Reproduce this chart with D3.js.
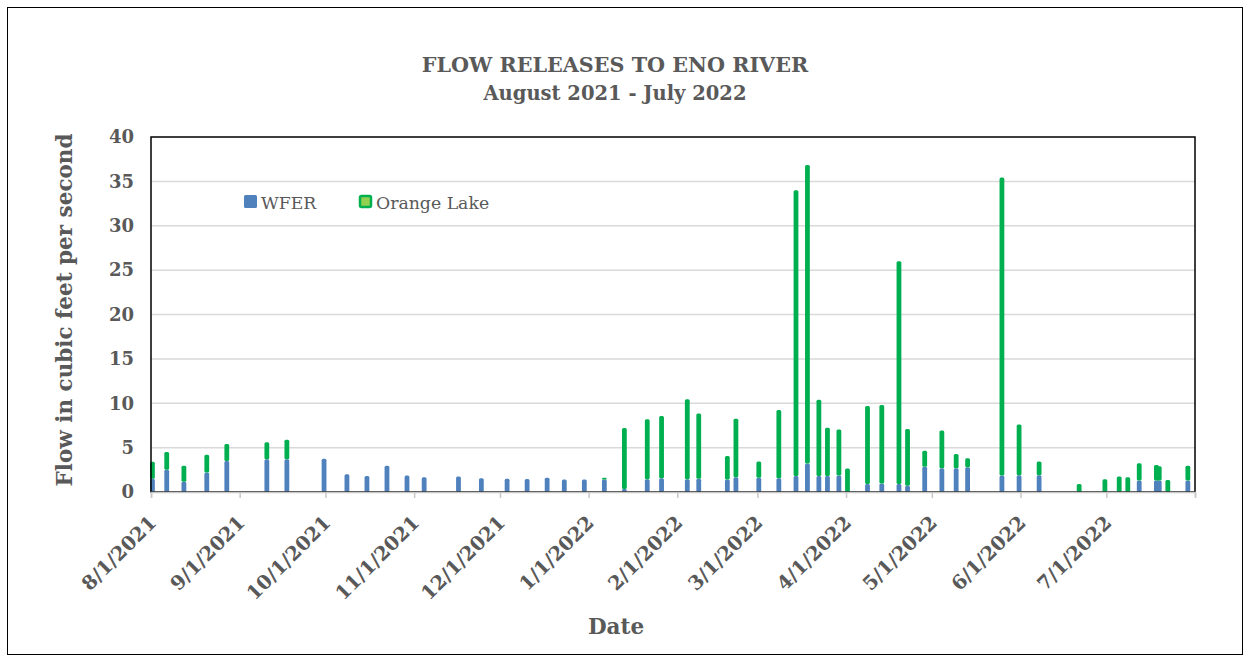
<!DOCTYPE html>
<html>
<head>
<meta charset="utf-8">
<script src="https://cdn.jsdelivr.net/npm/d3@7"></script>
<style>
  body { margin: 0; background: #fff; }
  text { font-family: "DejaVu Serif", "Liberation Serif", serif; fill: #595959; }
</style>
</head>
<body>
<div id="chart-container"></div>
<script>
// release dates and flows (cfs)
const dates = [
  "2021-08-01", "2021-08-06", "2021-08-12", "2021-08-20", "2021-08-27",
  "2021-09-10", "2021-09-17", "2021-09-30",
  "2021-10-08", "2021-10-15", "2021-10-22", "2021-10-29",
  "2021-11-04", "2021-11-16", "2021-11-24",
  "2021-12-03", "2021-12-10", "2021-12-17", "2021-12-23", "2021-12-30",
  "2022-01-06", "2022-01-13", "2022-01-21", "2022-01-26",
  "2022-02-04", "2022-02-08", "2022-02-18", "2022-02-21",
  "2022-03-01", "2022-03-08", "2022-03-14", "2022-03-18", "2022-03-22", "2022-03-25", "2022-03-29",
  "2022-04-01", "2022-04-08", "2022-04-13", "2022-04-19", "2022-04-22", "2022-04-28",
  "2022-05-04", "2022-05-09", "2022-05-13", "2022-05-25", "2022-05-31",
  "2022-06-07", "2022-06-21", "2022-06-30",
  "2022-07-05", "2022-07-08", "2022-07-12", "2022-07-18", "2022-07-19", "2022-07-22", "2022-07-29"
];
const wfer = [
  1.5, 2.5, 1.15, 2.2, 3.5,
  3.7, 3.7, 3.75,
  2.0, 1.8, 2.95, 1.85,
  1.65, 1.75, 1.55,
  1.5, 1.47, 1.6, 1.4, 1.4,
  1.4, 0.35, 1.45, 1.55,
  1.45, 1.5, 1.4, 1.65,
  1.6, 1.55, 1.8, 3.2, 1.8, 1.8, 1.85,
  0, 0.9, 0.95, 0.9, 0.7, 2.85,
  2.67, 2.67, 2.8, 1.85, 1.9,
  1.9, 0, 0,
  0, 0, 1.3, 1.3, 1.3, 0, 1.3
];
const orangeLake = [
  1.9, 2.0, 1.8, 2.0, 1.9,
  1.9, 2.2, 0,
  0, 0, 0, 0,
  0, 0, 0,
  0, 0, 0, 0, 0,
  0.2, 6.85, 6.75, 7.0,
  9.0, 7.35, 2.65, 6.6,
  1.85, 7.7, 32.2, 33.65, 8.6, 5.45, 5.2,
  2.65, 8.8, 8.85, 25.1, 6.4, 1.8,
  4.25, 1.6, 1.0, 33.6, 5.7,
  1.55, 0.9, 1.45,
  1.75, 1.65, 1.95, 1.75, 1.6, 1.35, 1.65
];
const seriesNames = ["WFER", "Orange Lake"];
const monthTicks = [
  "2021-08-01", "2021-09-01", "2021-10-01", "2021-11-01", "2021-12-01", "2022-01-01",
  "2022-02-01", "2022-03-01", "2022-04-01", "2022-05-01", "2022-06-01", "2022-07-01", "2022-08-01"
];
const yTicks = [0, 5, 10, 15, 20, 25, 30, 35, 40];

const width = 1249;
const height = 658;
const plotLeft = 151, plotRight = 1195, plotTop = 137, plotBottom = 492;

const parse = d3.timeParse("%Y-%m-%d");
const fmt = d3.timeFormat("%-m/%-d/%Y");

const svg = d3.select("#chart-container")
  .append("svg")
  .attr("width", width)
  .attr("height", height);

// outer chart border
svg.append("rect")
  .attr("x", 7.5).attr("y", 7.5)
  .attr("width", 1235).attr("height", 647)
  .attr("fill", "#fff")
  .attr("stroke", "#000")
  .attr("stroke-width", 1);

let xScale = d3.scaleTime()
  .domain([parse(monthTicks[0]), parse(monthTicks[monthTicks.length - 1])])
  .range([plotLeft, plotRight]);

let yScale = d3.scaleLinear()
  .domain([0, 40])
  .range([plotBottom, plotTop]);

/**
 * gridlines
 */
svg.append("g")
  .selectAll("line")
  .data(yTicks.filter((t) => t > 0 && t < 40))
  .enter()
  .append("line")
  .attr("x1", plotLeft).attr("x2", plotRight)
  .attr("y1", (d) => yScale(d)).attr("y2", (d) => yScale(d))
  .attr("stroke", "#d9d9d9")
  .attr("stroke-width", 1.5);

/**
 * stacked bars
 */
let rows = dates.map((d, i) => ({
  date: d3.timeHour.offset(parse(d), 12),
  "WFER": wfer[i],
  "Orange Lake": orangeLake[i],
}));
let stacked = d3.stack().keys(seriesNames)(rows);
const fills = ["#4f81bd", "#00b050"];
const barW = 4.8;

stacked.forEach((layer, k) => {
  svg.append("g")
    .selectAll("rect")
    .data(layer.filter((d) => d[1] - d[0] > 0))
    .enter()
    .append("rect")
    .attr("x", (d) => xScale(d.data.date) - barW / 2)
    .attr("y", (d) => yScale(d[1]))
    .attr("width", barW)
    .attr("height", (d) => yScale(d[0]) - yScale(d[1]))
    .attr("rx", 1.5)
    .attr("fill", fills[k]);
});

// plot area frame
svg.append("rect")
  .attr("x", plotLeft).attr("y", plotTop)
  .attr("width", plotRight - plotLeft).attr("height", plotBottom - plotTop)
  .attr("fill", "none")
  .attr("stroke", "#000")
  .attr("stroke-width", 1.5);

/**
 * x axis
 */
let xAxis = d3.axisBottom(xScale)
  .tickValues(monthTicks.map(parse))
  .tickSize(6)
  .tickFormat((d, i) => (i < monthTicks.length - 1 ? fmt(d) : ""));

let gx = svg.append("g")
  .attr("transform", `translate(0, ${plotBottom})`)
  .call(xAxis);
gx.select(".domain").attr("stroke", "#c8c8c8").attr("stroke-width", 1.5);
gx.selectAll(".tick line").attr("stroke", "#c8c8c8").attr("stroke-width", 1.5);
gx.selectAll(".tick text")
  .attr("font-size", 19.5)
  .attr("font-weight", "bold")
  .attr("text-anchor", "end")
  .attr("dy", 0)
  .attr("y", 0)
  .attr("transform", "translate(6, 32) rotate(-45)");

/**
 * y axis
 */
let yAxis = d3.axisLeft(yScale).tickValues(yTicks).tickSize(0).tickPadding(17);
let gy = svg.append("g")
  .attr("transform", `translate(${plotLeft}, 0)`)
  .call(yAxis);
gy.select(".domain").remove();
gy.selectAll(".tick text")
  .attr("font-size", 18)
  .attr("font-weight", "bold");

/**
 * titles
 */
svg.append("text")
  .attr("x", 615).attr("y", 71.5)
  .attr("text-anchor", "middle")
  .attr("font-size", 20.7)
  .attr("font-weight", "bold")
  .text("FLOW RELEASES TO ENO RIVER");

svg.append("text")
  .attr("x", 615).attr("y", 100)
  .attr("text-anchor", "middle")
  .attr("font-size", 19.5)
  .attr("font-weight", "bold")
  .text("August 2021 - July 2022");

svg.append("text")
  .attr("transform", "translate(72, 310) rotate(-90)")
  .attr("text-anchor", "middle")
  .attr("font-size", 21.5)
  .attr("font-weight", "bold")
  .text("Flow in cubic feet per second");

svg.append("text")
  .attr("x", 616).attr("y", 634)
  .attr("text-anchor", "middle")
  .attr("font-size", 21.5)
  .attr("font-weight", "bold")
  .text("Date");

/**
 * legend
 */
let legend = svg.append("g");
legend.append("rect")
  .attr("x", 244).attr("y", 195).attr("width", 13).attr("height", 13)
  .attr("rx", 1.5).attr("fill", "#4f81bd");
legend.append("text")
  .attr("x", 261).attr("y", 209)
  .attr("font-size", 17.3)
  .text(seriesNames[0]);
legend.append("rect")
  .attr("x", 360).attr("y", 196).attr("width", 11).attr("height", 11)
  .attr("rx", 1.5).attr("fill", "#92d050")
  .attr("stroke", "#00b050").attr("stroke-width", 2.5);
legend.append("text")
  .attr("x", 376).attr("y", 209)
  .attr("font-size", 17.3)
  .text(seriesNames[1]);
</script>
</body>
</html>
